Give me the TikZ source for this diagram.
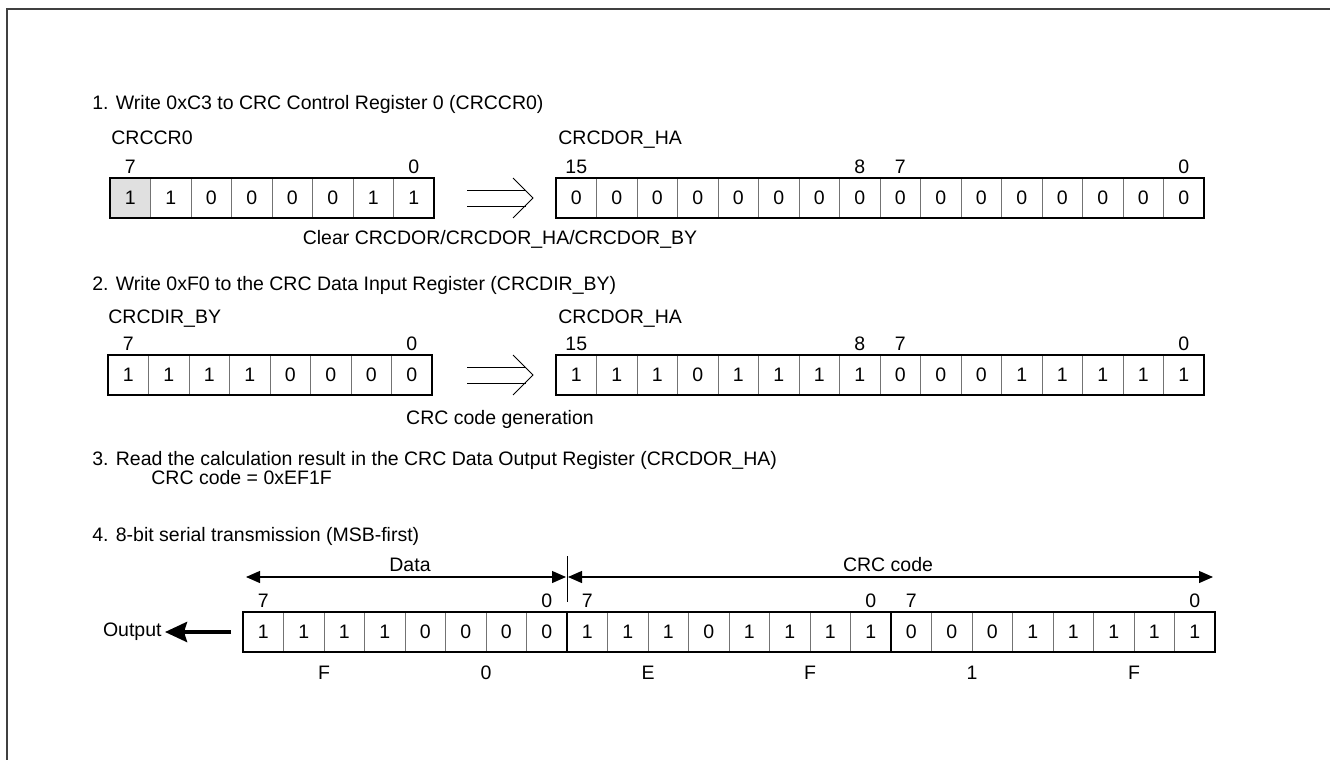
\documentclass[tikz,border=0pt]{standalone}
\usepackage{fontspec}
\setmainfont{Liberation Sans}
\usetikzlibrary{arrows.meta}

\tikzset{
  bitcell/.style={draw=black!55, line width=0.5pt, minimum width=20.25pt, minimum height=20pt, inner sep=0pt, outer sep=0pt},
  regframe/.style={draw=black, line width=0.9pt},
  bitnum/.style={anchor=base, yshift=2.5pt, inner sep=0pt},
  hexdigit/.style={anchor=base, yshift=-13.5pt, inner sep=0pt},
  regname/.style={anchor=base west, inner sep=0pt},
  steptext/.style={anchor=base west, inner sep=0pt},
  note/.style={anchor=base, inner sep=0pt},
  thinline/.style={line width=0.5pt},
  spanarrow/.style={line width=0.6pt, {Triangle[length=7pt,width=6pt]}-{Triangle[length=7pt,width=6pt]}},
}

\begin{document}
\begin{tikzpicture}[x=0.5pt, y=-0.5pt, font=\fontsize{9.75}{11.7}\selectfont]
  \useasboundingbox (0,0) rectangle (1330,760);

  % Frame
  \draw[black!75, line width=1pt] (7,760) -- (7,9) -- (1330,9);

  % Step 1
  \node[steptext] (step1) at (92,109) {1. Write 0xC3 to CRC Control Register 0 (CRCCR0)};
  \node[regname] (ccrname) at (111,144) {CRCCR0};
  \node[bitcell, fill=black!12] (ccr1) at (130.25,198) {1};
  \foreach \b [count=\i from 2] in {1,0,0,0,0,1,1}
    \node[bitcell] (ccr\i) at ({110+(\i-0.5)*40.5},198) {\b};
  \draw[regframe] (ccr1.north west) rectangle (ccr8.south east);
  \node[bitnum] at (ccr1.north) {7};
  \node[bitnum] at (ccr8.north) {0};

  \node[regname] (doraname) at (558,144) {CRCDOR\_HA};
  \foreach \b [count=\i] in {0,0,0,0,0,0,0,0,0,0,0,0,0,0,0,0}
    \node[bitcell] (dora\i) at ({556+(\i-0.5)*40.5},198) {\b};
  \draw[regframe] (dora1.north west) rectangle (dora16.south east);
  \node[bitnum] at (dora1.north) {15};
  \node[bitnum] at (dora8.north) {8};
  \node[bitnum] at (dora9.north) {7};
  \node[bitnum] at (dora16.north) {0};

  % Implies arrow 1
  \coordinate (imp1) at (467,198);
  \draw[thinline] (imp1) ++(0,-8) -- ++(59,0);
  \draw[thinline] (imp1) ++(0,8) -- ++(59,0);
  \draw[thinline] (imp1) ++(46,-20) -- ++(20,20) -- ++(-20,20);
  \node[note] (clear) at (500,244) {Clear CRCDOR/CRCDOR\_HA/CRCDOR\_BY};

  % Step 2
  \node[steptext] (step2) at (92,290) {2. Write 0xF0 to the CRC Data Input Register (CRCDIR\_BY)};
  \node[regname] (dirname) at (108,323) {CRCDIR\_BY};
  \foreach \b [count=\i] in {1,1,1,1,0,0,0,0}
    \node[bitcell] (dir\i) at ({108+(\i-0.5)*40.5},375) {\b};
  \draw[regframe] (dir1.north west) rectangle (dir8.south east);
  \node[bitnum] at (dir1.north) {7};
  \node[bitnum] at (dir8.north) {0};

  \node[regname] (dorbname) at (558,323) {CRCDOR\_HA};
  \foreach \b [count=\i] in {1,1,1,0,1,1,1,1,0,0,0,1,1,1,1,1}
    \node[bitcell] (dorb\i) at ({556+(\i-0.5)*40.5},375) {\b};
  \draw[regframe] (dorb1.north west) rectangle (dorb16.south east);
  \node[bitnum] at (dorb1.north) {15};
  \node[bitnum] at (dorb8.north) {8};
  \node[bitnum] at (dorb9.north) {7};
  \node[bitnum] at (dorb16.north) {0};

  % Implies arrow 2
  \coordinate (imp2) at (467,375);
  \draw[thinline] (imp2) ++(0,-8) -- ++(59,0);
  \draw[thinline] (imp2) ++(0,8) -- ++(59,0);
  \draw[thinline] (imp2) ++(46,-20) -- ++(20,20) -- ++(-20,20);
  \node[note] (gen) at (500,424) {CRC code generation};

  % Step 3
  \node[steptext] (step3) at (92,465) {3. Read the calculation result in the CRC Data Output Register (CRCDOR\_HA)};
  \node[steptext] (result) at (151,484) {CRC code = 0xEF1F};

  % Step 4
  \node[steptext] (step4) at (92,541) {4. 8-bit serial transmission (MSB-first)};
  \foreach \b [count=\i] in {1,1,1,1,0,0,0,0,1,1,1,0,1,1,1,1,0,0,0,1,1,1,1,1}
    \node[bitcell] (ser\i) at ({243+(\i-0.5)*40.5},632) {\b};
  \draw[regframe] (ser1.north west) rectangle (ser24.south east);
  \draw[regframe] (ser8.north east) -- (ser8.south east);
  \draw[regframe] (ser16.north east) -- (ser16.south east);
  \foreach \c/\d in {1/7,8/0,9/7,16/0,17/7,24/0}
    \node[bitnum] at (ser\c.north) {\d};
  \foreach \c/\h in {2/F,6/0,10/E,14/F,18/1,22/F}
    \node[hexdigit] at (ser\c.south east) {\h};

  % Data / CRC code spans
  \coordinate (dataL) at (246,577);
  \coordinate (split) at (567,577);
  \coordinate (crcR) at (1213,577);
  \draw[spanarrow] (dataL) -- ([xshift=-0.5pt]split);
  \draw[spanarrow] ([xshift=0.5pt]split) -- (crcR);
  \draw[thinline] (split) ++(0,-21) -- ++(0,46);
  \node[note] (datalbl) at (410,571) {Data};
  \node[note] (crclbl) at (888,571) {CRC code};

  % Output
  \node[anchor=east, inner sep=0pt] (out) at (162,632) {Output};
  \coordinate (outtail) at (231,632);
  \draw[line width=2pt, -{Stealth[length=11pt,width=10pt,inset=1.5pt]}, shorten >=1.5pt] (outtail) -- (out.east);

\end{tikzpicture}
\end{document}
